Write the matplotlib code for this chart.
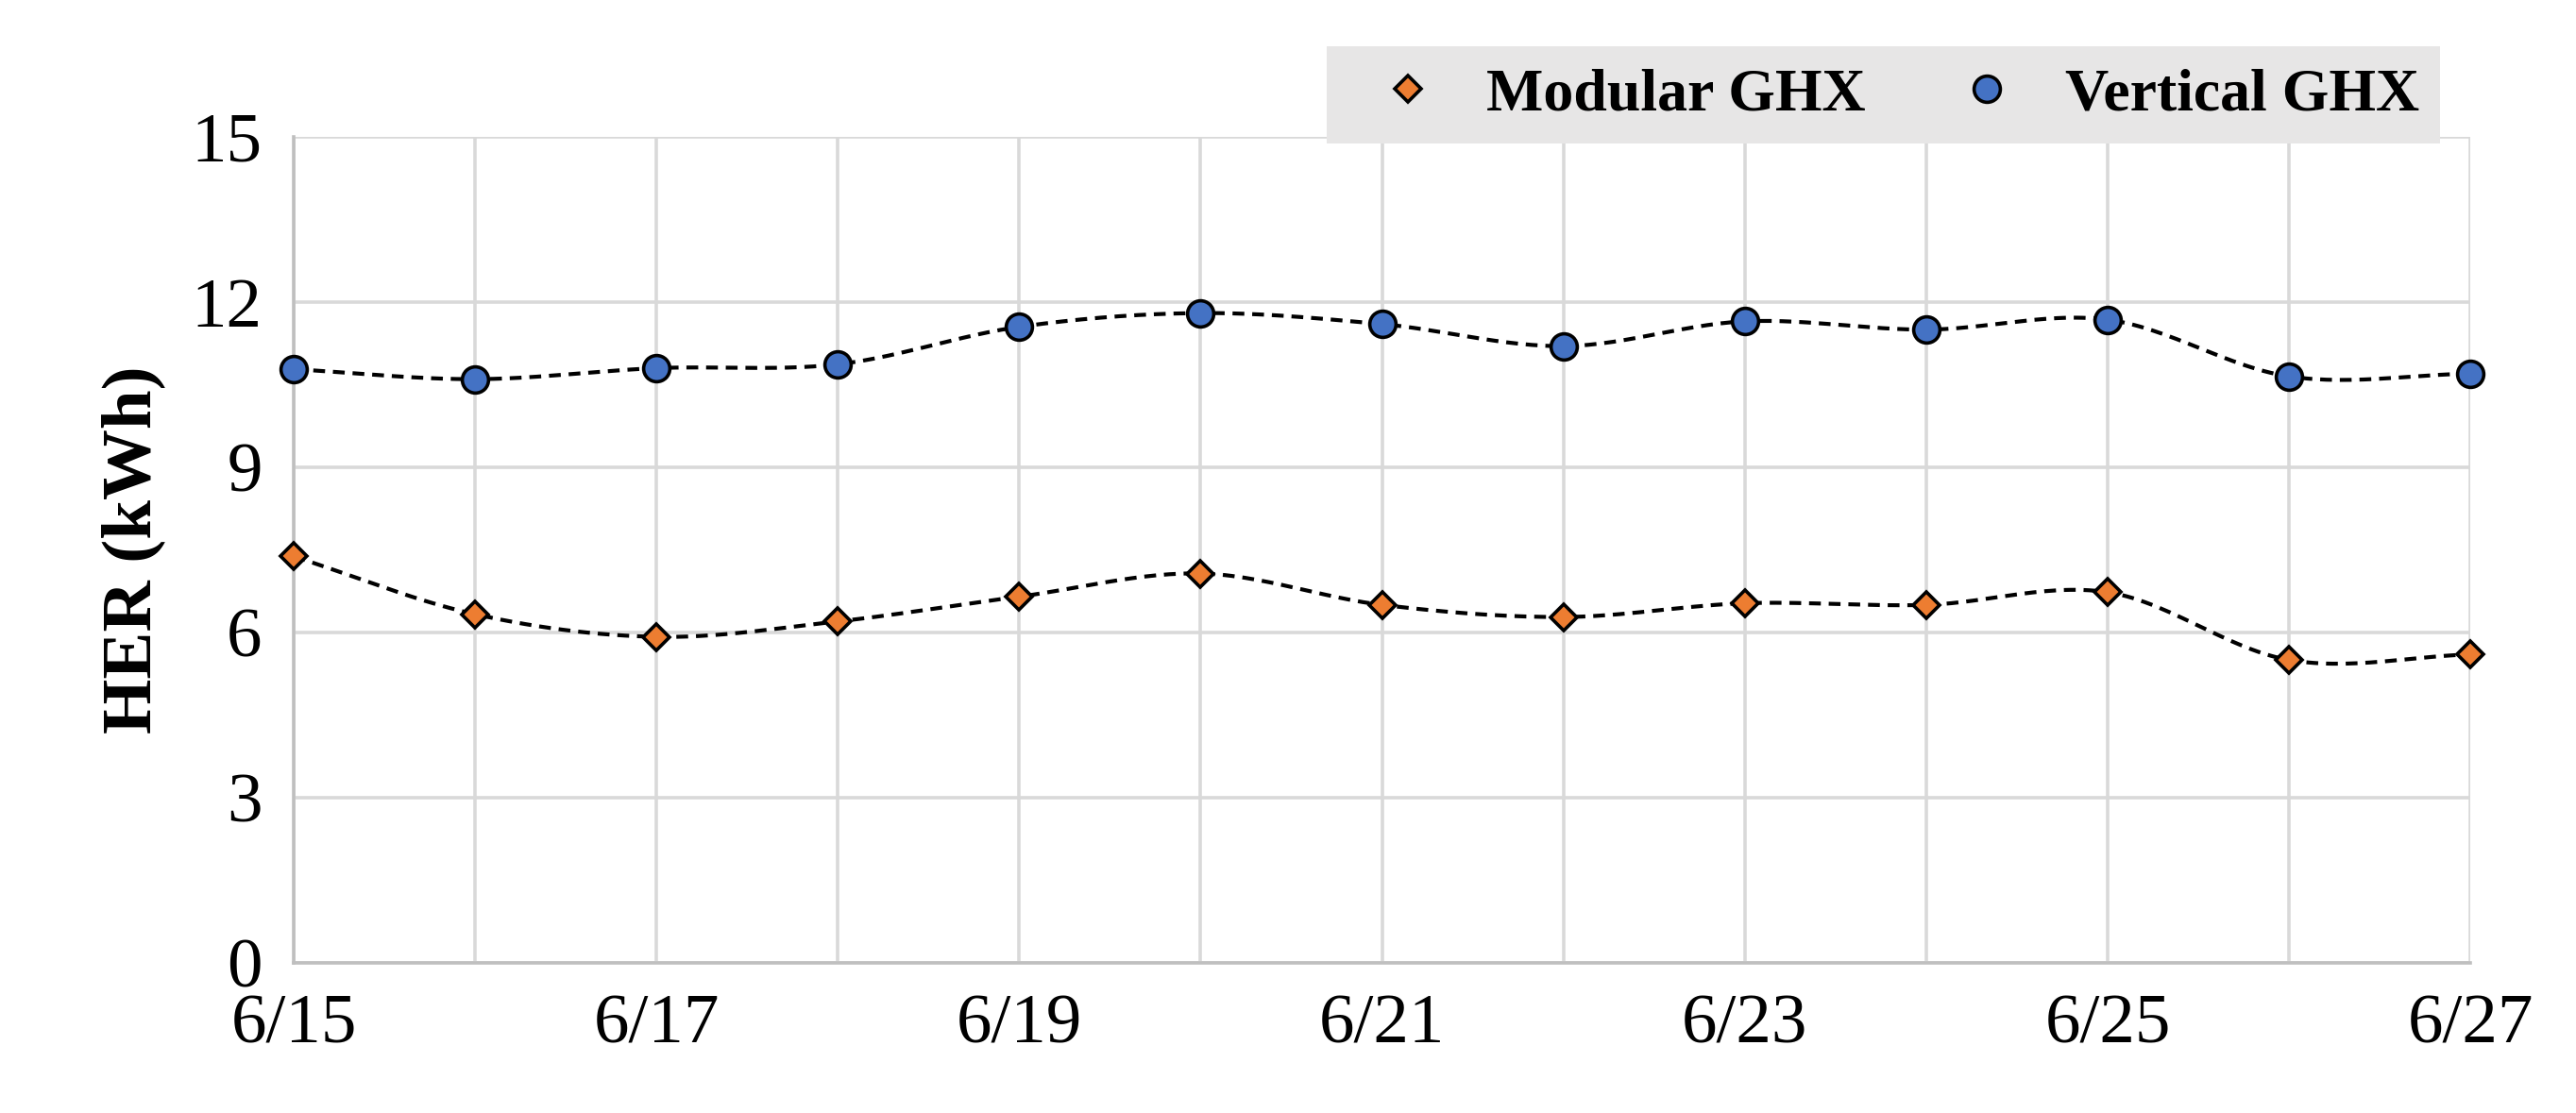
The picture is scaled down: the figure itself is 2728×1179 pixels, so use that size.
import numpy as np
import matplotlib.pyplot as plt

days = ["6/15", "6/16", "6/17", "6/18", "6/19", "6/20", "6/21",
        "6/22", "6/23", "6/24", "6/25", "6/26", "6/27"]
modular = [7.38, 6.33, 5.92, 6.20, 6.65, 7.07, 6.50, 6.28, 6.53, 6.50, 6.73, 5.50, 5.60]
vertical = [10.78, 10.60, 10.80, 10.87, 11.55, 11.80, 11.60, 11.20, 11.65, 11.50, 11.68, 10.65, 10.70]


def smooth(x, y, n=30):
    # Catmull-Rom curve through the points, like Excel's smoothed line
    x = np.asarray(x, float)
    y = np.asarray(y, float)
    px = np.concatenate([[2 * x[0] - x[1]], x, [2 * x[-1] - x[-2]]])
    py = np.concatenate([[2 * y[0] - y[1]], y, [2 * y[-1] - y[-2]]])
    xs, ys = [], []
    t = np.linspace(0, 1, n)
    for i in range(1, len(px) - 2):
        for p, out in ((px, xs), (py, ys)):
            p0, p1, p2, p3 = p[i - 1], p[i], p[i + 1], p[i + 2]
            out.extend(0.5 * (2 * p1 + (-p0 + p2) * t
                              + (2 * p0 - 5 * p1 + 4 * p2 - p3) * t ** 2
                              + (-p0 + 3 * p1 - 3 * p2 + p3) * t ** 3))
    return xs, ys


plt.rcParams['font.family'] = ['Liberation Serif', 'DejaVu Serif']

fig = plt.figure(figsize=(13.64, 5.895), dpi=200)
ax = fig.add_axes([0.114, 0.135, 0.845, 0.742])

x = np.arange(len(days))
for vals, marker, color, label, ms in ((modular, "D", "#ED7D31", "Modular GHX", 7),
                                       (vertical, "o", "#4472C4", "Vertical GHX", 10)):
    sx, sy = smooth(x, vals)
    ax.plot(sx, sy, "k--", lw=1.5, dashes=(3, 2), zorder=2)
    ax.plot(x, vals, linestyle="none", marker=marker, ms=ms, mfc=color,
            mec="black", mew=1.3, label=label, zorder=3, clip_on=False)

ax.set_xlim(0, 12)
ax.set_ylim(0, 15)
ax.set_yticks([0, 3, 6, 9, 12, 15])
ax.set_xticks(x)
ax.set_xticklabels([d if i % 2 == 0 else "" for i, d in enumerate(days)])
ax.tick_params(labelsize=27, length=0, pad=12)
ax.grid(color="#D9D9D9", lw=1.3)
for s in ("top", "right"):
    ax.spines[s].set_visible(False)
ax.spines["left"].set_color("#BFBFBF")
ax.spines["bottom"].set_color("#BFBFBF")
ax.spines["left"].set_linewidth(1.3)
ax.spines["bottom"].set_linewidth(1.3)
ax.set_ylabel("HER (kWh)", fontsize=27, fontweight="bold", labelpad=10)

leg = ax.legend(loc="lower right", bbox_to_anchor=(1.0, 0.955), ncol=2,
                frameon=True, fancybox=False, prop={"size": 23, "weight": "bold"},
                handletextpad=0.3, columnspacing=1.0, borderpad=0.35)
leg.get_frame().set_facecolor("#E7E6E6")
leg.get_frame().set_edgecolor("none")
leg.get_frame().set_alpha(1)
leg.set_zorder(5)

fig.savefig("out.png", dpi=200)
